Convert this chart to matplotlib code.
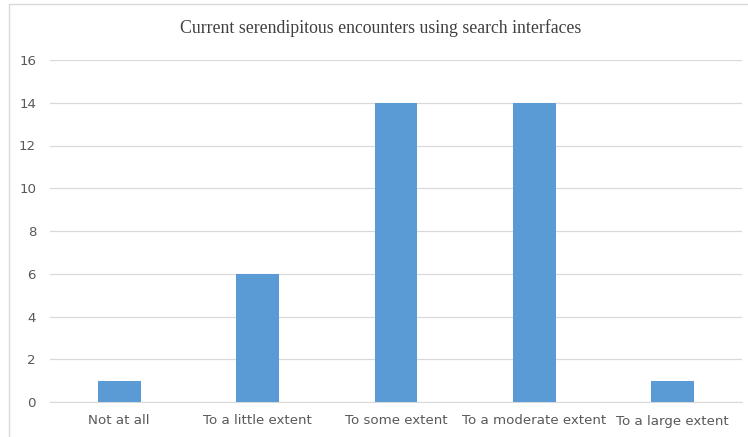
import matplotlib.pyplot as plt
from matplotlib.patches import Rectangle

categories = ["Not at all", "To a little extent", "To some extent",
              "To a moderate extent", "To a large extent"]
counts = [1, 6, 14, 14, 1]
y_ticks = [0, 2, 4, 6, 8, 10, 12, 14, 16]
title = "Current serendipitous encounters using search interfaces"

fig = plt.figure(figsize=(7.48, 4.37), dpi=100)
fig.patch.set_facecolor("white")

# light frame around the chart area
fig.add_artist(Rectangle((9 / 748, -0.05), 1.1, 1 - 4 / 437 + 0.05,
                         transform=fig.transFigure, fill=False,
                         edgecolor="#d9d9d9", linewidth=1.0))

ax = fig.add_axes([50 / 748, 1 - 402 / 437, (742 - 50) / 748, (402 - 60) / 437])
x = range(len(categories))
ax.bar(x, counts, width=0.31, color="#5B9BD5", zorder=3)

ax.set_xlim(-0.5, len(categories) - 0.5)
ax.set_ylim(0, 16)
ax.set_yticks(y_ticks)
ax.set_xticks(list(x))
ax.set_xticklabels(categories)
ax.yaxis.grid(True, color="#d9d9d9", linewidth=0.9, zorder=0)
for s in ["top", "right", "left"]:
    ax.spines[s].set_visible(False)
ax.spines["bottom"].set_color("#d9d9d9")
ax.tick_params(axis="both", length=0, colors="#595959", labelsize=9.6)
ax.tick_params(axis="x", pad=9)
ax.tick_params(axis="y", pad=10)

fig.text(381 / 748, 1 - 28 / 437, title, ha="center", va="center",
         fontsize=12.8, color="#404040", family="Liberation Serif")

fig.savefig("out.png", dpi=100, facecolor="white")
